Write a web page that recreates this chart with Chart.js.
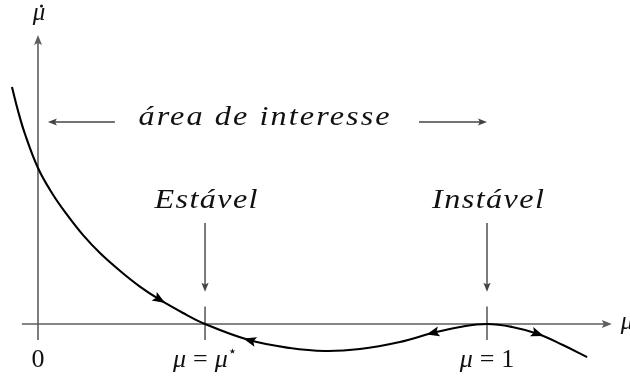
<!DOCTYPE html>
<html>
<head>
<meta charset="utf-8">
<script src="https://cdn.jsdelivr.net/npm/chart.js@4/dist/chart.umd.min.js"></script>
<style>
  html, body { margin: 0; padding: 0; background: #fff; overflow: hidden; }
  canvas { display: block; }
</style>
</head>
<body>
<canvas id="phase" width="630" height="378"></canvas>
<script>
// Sampled phase curve: mu on the horizontal axis, d(mu)/dt on the vertical axis
const curveMu   = [-0.058, -0.045, -0.029, 0.000, 0.031, 0.065, 0.100, 0.138, 0.183, 0.227, 0.272, 0.321, 0.372,
                    0.470, 0.561, 0.639, 0.717, 0.806, 0.878, 0.940, 1.000, 1.056, 1.114, 1.169, 1.223];
const curveRate = [ 1.519,  1.372,  1.218, 1.000, 0.840, 0.699, 0.571, 0.455, 0.340, 0.240, 0.154, 0.074, 0.000,
                   -0.103, -0.154, -0.173, -0.160, -0.115, -0.058, -0.019, 0.000, -0.019, -0.064, -0.135, -0.212];

// Flow direction markers on the curve (sample index, +1 = towards larger mu)
const flowIndex = [10, 13, 18, 22];
const flowSign  = [1, -1, -1, 1];

// Marked positions on the mu axis and their labels
const tickMu     = [0, 0.372, 1];
const tickLabels = ['0', 'μ = μ*', 'μ = 1'];

// Equilibrium annotations
const equilibriumMu     = [0.372, 1];
const equilibriumLabels = ['Estável', 'Instável'];

// Region of interest banner
const regionLabel = 'área de interesse';
const regionMu    = [0.022, 1.0];

const SERIF = '"Liberation Serif", "DejaVu Serif", serif';
const AXIS_COLOR = '#5e5e5e';
const INK = '#111';

function arrowHead(ctx, tx, ty, dx, dy, len, half, color) {
  const m = Math.hypot(dx, dy); dx /= m; dy /= m;
  const nx = -dy, ny = dx;
  const bx = tx - dx * len, by = ty - dy * len;
  ctx.save();
  ctx.fillStyle = color;
  ctx.beginPath();
  ctx.moveTo(tx, ty);
  ctx.lineTo(bx + nx * half, by + ny * half);
  ctx.lineTo(tx - dx * len * 0.8, ty - dy * len * 0.8);
  ctx.lineTo(bx - nx * half, by - ny * half);
  ctx.closePath();
  ctx.fill();
  ctx.restore();
}

function arrowLine(ctx, x0, y0, x1, y1, color, width) {
  ctx.save();
  ctx.strokeStyle = color;
  ctx.lineWidth = width;
  const dx = x1 - x0, dy = y1 - y0, m = Math.hypot(dx, dy);
  ctx.beginPath();
  ctx.moveTo(x0, y0);
  ctx.lineTo(x1 - dx / m * 5, y1 - dy / m * 5);
  ctx.stroke();
  ctx.restore();
  arrowHead(ctx, x1, y1, dx, dy, 9, 3.6, color);
}

// Italic text, slightly widened and spaced to span a given width around cx
function spacedText(ctx, text, cx, baseline, width, size) {
  const sx = 1.15;
  ctx.save();
  ctx.font = 'italic ' + size + 'px ' + SERIF;
  ctx.fillStyle = INK;
  ctx.textBaseline = 'alphabetic';
  ctx.textAlign = 'left';
  ctx.letterSpacing = '0px';
  const w = ctx.measureText(text).width;
  const n = [...text].length;
  const ls = Math.max(0, (width / sx - w) / (n - 1));
  ctx.letterSpacing = ls.toFixed(2) + 'px';
  ctx.translate(cx - width / 2, baseline);
  ctx.scale(sx, 1);
  ctx.fillText(text, 0, 0);
  ctx.restore();
}

// Label with italic symbols and upright operators/digits
function mathLabel(ctx, label, cx, baseline) {
  const runs = [];
  for (const ch of label) {
    if (ch === 'μ') runs.push({ t: 'μ', font: 'italic 26px ' + SERIF, dy: 0 });
    else if (ch === '*') runs.push({ t: '⋆', font: '15px "DejaVu Sans", sans-serif', dy: -11 });
    else if (ch === ' ') runs.push({ t: '', font: '24px ' + SERIF, dy: 0, pad: 7 });
    else runs.push({ t: ch, font: '26px ' + SERIF, dy: 0 });
  }
  ctx.save();
  ctx.fillStyle = INK;
  ctx.textBaseline = 'alphabetic';
  ctx.textAlign = 'left';
  let total = 0;
  for (const r of runs) { ctx.font = r.font; r.w = ctx.measureText(r.t).width + (r.pad || 0); total += r.w; }
  let x = cx - total / 2;
  for (const r of runs) { ctx.font = r.font; ctx.fillText(r.t, x, baseline + r.dy); x += r.w; }
  ctx.restore();
}

const phasePlugin = {
  id: 'phasePlugin',
  beforeDatasetsDraw(chart) {
    const { ctx, scales: { x, y } } = chart;
    const x0 = x.getPixelForValue(0), y0 = y.getPixelForValue(0);
    // axes
    ctx.save();
    ctx.strokeStyle = AXIS_COLOR;
    ctx.lineWidth = 1.6;
    ctx.beginPath();
    ctx.moveTo(x.getPixelForValue(-0.036), y0);
    ctx.lineTo(x.getPixelForValue(1.278) - 5, y0);
    ctx.moveTo(x0, y.getPixelForValue(-0.103));
    ctx.lineTo(x0, y.getPixelForValue(1.853) + 5);
    // marks on the mu axis
    for (const m of tickMu) {
      const px = x.getPixelForValue(m);
      ctx.moveTo(px, y.getPixelForValue(0.112));
      ctx.lineTo(px, y.getPixelForValue(-0.103));
    }
    ctx.stroke();
    ctx.restore();
    arrowHead(ctx, x.getPixelForValue(1.278), y0, 1, 0, 10, 4, AXIS_COLOR);
    arrowHead(ctx, x0, y.getPixelForValue(1.853), 0, -1, 10, 4, AXIS_COLOR);
  },
  afterDatasetsDraw(chart) {
    const { ctx, scales: { x, y } } = chart;
    // flow arrows along the curve
    flowIndex.forEach((i, k) => {
      const px = x.getPixelForValue(curveMu[i]), py = y.getPixelForValue(curveRate[i]);
      const ax = x.getPixelForValue(curveMu[i - 1]), ay = y.getPixelForValue(curveRate[i - 1]);
      const bx = x.getPixelForValue(curveMu[i + 1]), by = y.getPixelForValue(curveRate[i + 1]);
      const s = flowSign[k];
      const dx = (bx - ax) * s, dy = (by - ay) * s, m = Math.hypot(dx, dy);
      arrowHead(ctx, px + dx / m * 6, py + dy / m * 6, dx, dy, 13, 5, '#000');
    });

    // axis names
    ctx.save();
    ctx.fillStyle = INK;
    ctx.font = 'italic 25px ' + SERIF;
    ctx.textAlign = 'center';
    ctx.textBaseline = 'alphabetic';
    const x0 = x.getPixelForValue(0);
    ctx.fillText('μ', x0 + 1, 20);
    ctx.beginPath();
    ctx.arc(x0 + 3.5, 6, 1.5, 0, Math.PI * 2);
    ctx.fill();
    ctx.textAlign = 'left';
    ctx.fillText('μ', x.getPixelForValue(1.278) + 9, y.getPixelForValue(0) + 5);
    ctx.restore();

    // region of interest banner
    const rl = x.getPixelForValue(regionMu[0]), rr = x.getPixelForValue(regionMu[1]);
    const ry = y.getPixelForValue(1.295);
    arrowLine(ctx, rl + 67, ry, rl, ry, '#444', 1.4);
    arrowLine(ctx, rr - 68, ry, rr, ry, '#444', 1.4);
    spacedText(ctx, regionLabel, 264, y.getPixelForValue(1.277), 251, 28);

    // equilibrium annotations
    const widths = [103, 112];
    equilibriumMu.forEach((m, k) => {
      const px = x.getPixelForValue(m);
      spacedText(ctx, equilibriumLabels[k], px + 1, y.getPixelForValue(0.745), widths[k], 28);
      arrowLine(ctx, px, y.getPixelForValue(0.647), px, y.getPixelForValue(0.207), '#444', 1.4);
    });

    // labels under the axis marks
    tickMu.forEach((m, k) => mathLabel(ctx, tickLabels[k], x.getPixelForValue(m), y.getPixelForValue(-0.276)));
  }
};

const points = curveMu.map((m, i) => ({ x: m, y: curveRate[i] }));

new Chart(document.getElementById('phase'), {
  type: 'scatter',
  data: {
    datasets: [{
      data: points,
      showLine: true,
      borderColor: '#000',
      borderWidth: 2.1,
      pointRadius: 0,
      tension: 0.4,
      clip: false
    }]
  },
  options: {
    responsive: false,
    devicePixelRatio: 1,
    animation: false,
    events: [],
    layout: { padding: 0 },
    plugins: { legend: { display: false }, tooltip: { enabled: false } },
    scales: {
      x: { type: 'linear', display: false, min: -38 / 449, max: 592 / 449 },
      y: { type: 'linear', display: false, min: -54 / 156, max: 324 / 156 }
    }
  },
  plugins: [phasePlugin]
});
</script>
</body>
</html>
